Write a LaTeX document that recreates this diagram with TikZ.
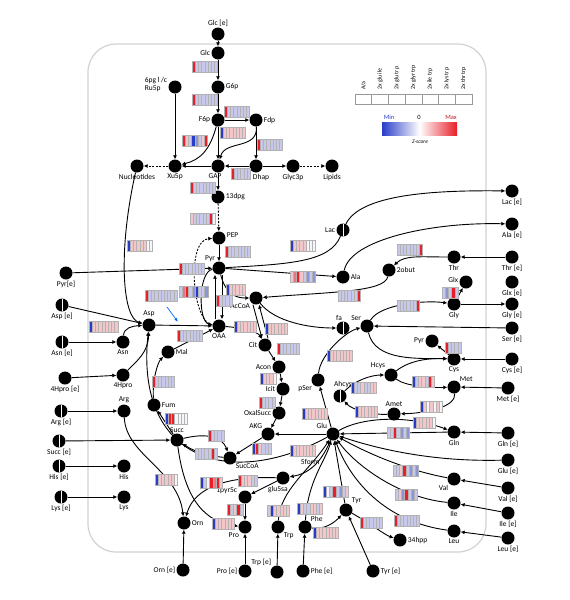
\documentclass[tikz,border=0pt]{standalone}
\usepackage{fontspec}
\setmainfont{Carlito}
\usetikzlibrary{arrows.meta}
\definecolor{zL}{RGB}{200,200,234}
\definecolor{zP}{RGB}{243,198,202}
\definecolor{zB}{RGB}{40,60,200}
\definecolor{zR}{RGB}{232,30,40}
\definecolor{zW}{RGB}{246,246,250}
\definecolor{zM}{RGB}{228,120,132}
\definecolor{zN}{RGB}{140,150,212}
\newcommand{\zfont}{\fontsize{7.5}{8}\selectfont}
% heat bar: x, y (top left), cell colours
\newcommand{\zbar}[3]{%
	\foreach \zc [count=\zi from 0] in {#3}
		\filldraw[fill=\zc, draw=gray!60, line width=0.3pt] (#1+\zi*3.2,#2) rectangle ++(3.2,11);}
\tikzset{%
	met/.style={circle, fill=black, minimum size=13pt, inner sep=0pt},
	splitmet/.style={met, path picture={\draw[white, line width=0.7pt]
		(path picture bounding box.north) -- (path picture bounding box.south);}},
	flux/.style={line width=0.9pt, -{Latex[length=4pt,width=4pt]}},
	dflux/.style={flux, dash pattern=on 2pt off 1.5pt},
	every label/.style={font=\zfont, inner sep=1pt}
}
\begin{document}
\begin{tikzpicture}[x=1pt, y=-1pt]
	\useasboundingbox[fill=white] (0,0) rectangle (570,600);
	\draw[gray!35, line width=1.2pt, rounded corners=28pt] (88,44) rectangle (486,552);

	% glycolysis
	\node[met, label=above:{Glc [e]}] (glcE) at (218,34) {};
	\node[met, label=left:Glc] (glc) at (218,53) {};
	\node[met, label=right:G6p] (g6p) at (218,87) {};
	\node[met, label=left:F6p] (f6p) at (218,120) {};
	\node[met, label=right:Fdp] (fdp) at (256,120) {};
	\node[met, label={[align=left, yshift=3pt]left:6pg l /c\\Ru5p}] (ru5p) at (175,87) {};
	\node[met, label=below:Nucleotides] (nucl) at (137,166) {};
	\node[met, label=below:Xu5p] (xu5p) at (175,166) {};
	\node[met, label={[xshift=-3pt]below:GAP}] (gap) at (218,166) {};
	\node[met, label={[xshift=5pt]below:Dhap}] (dhap) at (256,166) {};
	\node[met, label=below:Glyc3p] (glyc3p) at (293,166) {};
	\node[met, label=below:Lipids] (lipids) at (332,166) {};
	\node[met, label=right:13dpg] (dpg) at (218,197) {};
	\node[met, label={[yshift=3pt]right:PEP}] (pep) at (219,238) {};
	\node[met, label={[xshift=2pt]above left:Pyr}] (pyr) at (219,268) {};
	\node[met, label=below:{Pyr[e]}] (pyrE) at (66,273) {};

	% right side
	\node[met, label=below:{Lac [e]}] (lacE) at (512,191) {};
	\node[splitmet, label=left:Lac] (lac) at (343,230) {};
	\node[met, label=below:{Ala [e]}] (alaE) at (512,224) {};
	\node[met, label=right:Ala] (ala) at (343,277) {};
	\node[met, label=right:2obut] (obut) at (389,270) {};
	\node[met, label=below:Thr] (thr) at (454,257) {};
	\node[met, label=below:{Thr [e]}] (thrE) at (512,257) {};
	\node[met, label={[yshift=2pt]left:Glx}] (glx) at (466,282) {};
	\node[met, label=below:{Glx [e]}] (glxE) at (512,282) {};
	\node[met, label=below:Gly] (gly) at (454,304) {};
	\node[met, label=below:{Gly [e]}] (glyE) at (512,304) {};
	\node[met, label=above left:Ser] (ser) at (367,326) {};
	\node[met, label=below:{Ser [e]}] (serE) at (512,328) {};
	\node[splitmet, label={[xshift=-4pt]above:fa}] (fa) at (343,328) {};
	\node[met, label=left:Pyr] (pyrB) at (432,341) {};
	\node[met, label=below:Cys] (cys) at (454,359) {};
	\node[met, label=below:{Cys [e]}] (cysE) at (512,359) {};
	\node[met, label=above left:Hcys] (hcys) at (391,375) {};
	\node[met, label=above right:Met] (met) at (454,387) {};
	\node[met, label=below:{Met [e]}] (metE) at (508,388) {};
	\node[splitmet, label={[xshift=3pt]above:Ahcys}] (ahcys) at (340,396) {};
	\node[met, label=above:Amet] (amet) at (394,414) {};
	\node[met, label=below:Gln] (gln) at (454,432) {};
	\node[met, label=below:{Gln [e]}] (glnE) at (508,433) {};
	\node[met, label=below:{Glu [e]}] (gluE) at (508,460) {};
	\node[met, label=below left:Val] (val) at (454,479) {};
	\node[met, label=below:{Val [e]}] (valE) at (508,488) {};
	\node[met, label=below:Ile] (ile) at (454,503) {};
	\node[met, label=below:{Ile [e]}] (ileE) at (508,513) {};
	\node[met, label=below:Leu] (leu) at (454,531) {};
	\node[met, label=below:{Leu [e]}] (leuE) at (508,538) {};

	% TCA cycle and centre
	\node[met, label=below left:AcCoA] (acoa) at (256,298) {};
	\node[met, label=below:OAA] (oaa) at (219,326) {};
	\node[met, label=above:Asp] (asp) at (149,325) {};
	\node[met, label=right:Mal] (mal) at (168,352) {};
	\node[met, label=left:Cit] (cit) at (265,345) {};
	\node[met, label=left:Acon] (acon) at (279,367) {};
	\node[met, label=left:Icit] (icit) at (283,389) {};
	\node[met, label=left:OxalSucc] (oxs) at (279,413) {};
	\node[met, label=above left:AKG] (akg) at (268,434) {};
	\node[met, label=above left:Glu] (glu) at (333,434) {};
	\node[met, label=below left:pSer] (pser) at (318,380) {};
	\node[met, label=right:Fum] (fum) at (154,405) {};
	\node[met, label=above:Succ] (succ) at (177,440) {};
	\node[met, label=below right:SucCoA] (succoa) at (230,458) {};
	\node[met, label={[xshift=-5pt]below:glu5sa}] (glu5sa) at (283,478) {};
	\node[met, label={[yshift=6pt]left:1pyr5c}] (pyr5c) at (245,497) {};
	\node[met, label=below left:Pro] (pro) at (245,527) {};
	\node[met, label=right:Orn] (orn) at (184,523) {};
	\node[met, label=above right:Tyr] (tyr) at (346,510) {};
	\node[met, label=right:34hpp] (hpp) at (400,540) {};
	\node[met, label=above right:Phe] (phe) at (305,527) {};
	\node[met, label=below right:Trp] (trp) at (278,527) {};

	% left side
	\node[splitmet, label=below:{Asp [e]}] (aspE) at (62,305) {};
	\node[splitmet, label=below:{Asn [e]}] (asnE) at (62,342) {};
	\node[met, label=below:Asn] (asn) at (123,342) {};
	\node[met, label=below:{4Hpro [e]}] (hproE) at (65,378) {};
	\node[met, label=below:4Hpro] (hpro) at (123,375) {};
	\node[met, label=above:Arg] (arg) at (124,411) {};
	\node[splitmet, label=below:{Arg [e]}] (argE) at (61,411) {};
	\node[splitmet, label=below:{Succ [e]}] (succE) at (59,441) {};
	\node[splitmet, label=below:{His [e]}] (hisE) at (59,466) {};
	\node[met, label=below:His] (his) at (124,466) {};
	\node[splitmet, label=below:{Lys [e]}] (lysE) at (61,497) {};
	\node[met, label=below:Lys] (lys) at (124,497) {};

	% bottom
	\node[met, label=left:{Orn [e]}] (ornE) at (183,570) {};
	\node[met, label=left:{Pro [e]}] (proE) at (245,571) {};
	\node[met, label=above left:{Trp [e]}] (trpE) at (277,572) {};
	\node[met, label=right:{Phe [e]}] (pheE) at (303,571) {};
	\node[met, label=right:{Tyr [e]}] (tyrE) at (373,571) {};

	% glycolysis fluxes
	\draw[flux] (glcE) -- (glc);
	\draw[flux] (glc) -- (g6p);
	\draw[flux] (g6p) -- (f6p);
	\draw[flux] (f6p) -- (fdp);
	\draw[flux] (f6p) -- (gap);
	\draw[flux] (f6p) .. controls (210,150) and (200,160) .. (xu5p);
	\draw[flux] (fdp) .. controls (258,150) and (225,140) .. (gap);
	\draw[flux] (fdp) -- (dhap);
	\draw[flux] (dhap) -- (gap);
	\draw[flux] (ru5p) -- (xu5p);
	\draw[flux] (gap) -- (xu5p);
	\draw[dflux] (xu5p) -- (nucl);
	\draw[flux] (dhap) -- (glyc3p);
	\draw[dflux] (glyc3p) -- (lipids);
	\draw[flux] (gap) -- (dpg);
	\draw[dflux] (dpg) -- (pep);
	\draw[flux] (pep) -- (pyr);
	\draw[dflux] (oaa) .. controls (192,322) and (186,240) .. (pep);
	\draw[flux] (pyrE) -- (pyr);
	\draw[line width=0.9pt] (pyr) .. controls (290,264) and (330,262) .. (lac);
	\draw[flux] (lac) .. controls (360,195) and (430,190) .. (lacE);
	\draw[flux] (pyr) -- (ala);
	\draw[flux] (ala) .. controls (350,240) and (430,222) .. (alaE);
	\draw[flux] (thrE) -- (thr);
	\draw[flux] (thr) .. controls (420,257) and (405,255) .. (obut);
	\draw[flux] (obut) .. controls (385,292) and (330,292) .. (acoa);
	\draw[flux] (pyr) .. controls (226,296) and (238,298) .. (acoa);
	\draw[flux] ([xshift=3pt]pyr.south) -- ([xshift=3pt]oaa.north);
	\draw[flux] ([xshift=-4pt]oaa.north) -- ([xshift=-4pt]pyr.south);
	\draw[flux] (pyr) .. controls (198,272) and (198,322) .. (oaa);
	\draw[flux] ([xshift=-3pt]acoa.south) -- ([xshift=-3pt]cit.north);
	\draw[flux] ([xshift=3pt]cit.north) -- ([xshift=3pt]acoa.south);
	\draw[flux] (oaa) .. controls (245,328) and (258,332) .. (cit);
	\draw[flux] (acoa) .. controls (275,322) and (310,328) .. (fa);

	% TCA cycle
	\draw[flux] (cit) -- (acon);
	\draw[flux] (acon) -- (icit);
	\draw[flux] (icit) -- (oxs);
	\draw[flux] (oxs) -- (akg);
	\draw[flux] (akg) -- (succoa);
	\draw[flux] (succ) .. controls (205,433) and (222,436) .. (succoa);
	\draw[flux] (succoa) .. controls (210,456) and (195,452) .. (succ);
	\draw[flux] (succ) -- (fum);
	\draw[flux] (fum) .. controls (152,380) and (158,362) .. (mal);
	\draw[flux] (mal) -- (oaa);
	\draw[flux] (asp) -- (oaa);
	\draw[flux] (succE) -- (succ);

	% aspartate side
	\draw[flux] (aspE) -- (asp);
	\draw[flux] (asnE) -- (asn);
	\draw[flux] (asn) .. controls (124,328) and (132,326) .. (asp);
	\draw[flux] (hproE) -- (hpro);
	\draw[flux] (hpro) .. controls (138,360) and (148,352) .. (asp);
	\draw[flux] (nucl) .. controls (118,250) and (122,318) .. (asp);
	\draw[flux] (glu) .. controls (230,490) and (135,460) .. (asp);
	\draw[flux] (argE) -- (arg);
	\draw[flux] (hisE) -- (his);
	\draw[flux] (lysE) -- (lys);
	\draw[flux] (arg) .. controls (126,455) and (178,470) .. (orn);
	\draw[flux] (ornE) -- (orn);
	\draw[flux] (succ) .. controls (185,500) and (205,522) .. (pro);

	% glutamate hub
	\draw[flux] (glu) -- (akg);
	\draw[flux] (glu) .. controls (320,466) and (306,474) .. (glu5sa) node[pos=0.55, above, font=\zfont] {5form};
	\draw[flux] (glu5sa) -- (pyr5c);
	\draw[flux] (glu5sa) .. controls (230,476) and (195,486) .. (orn);
	\draw[flux] (pyr5c) -- (pro);
	\draw[flux] (proE) -- (pro);
	\draw[flux] (trpE) -- (trp);
	\draw[flux] (trp) .. controls (280,490) and (310,470) .. (glu);
	\draw[flux] (pheE) -- (phe);
	\draw[flux] (phe) .. controls (308,480) and (325,462) .. (glu);
	\draw[flux] (phe) .. controls (325,530) and (335,522) .. (tyr);
	\draw[flux] (tyrE) -- (tyr);
	\draw[flux] (tyr) -- (glu);
	\draw[flux] (tyr) .. controls (368,522) and (385,535) .. (hpp);
	\draw[flux] (leuE) -- (leu);
	\draw[flux] (leu) .. controls (385,522) and (350,480) .. (glu);
	\draw[flux] (ileE) -- (ile);
	\draw[flux] (ile) .. controls (400,498) and (355,465) .. (glu);
	\draw[flux] (valE) -- (val);
	\draw[flux] (val) .. controls (405,470) and (365,452) .. (glu);
	\draw[flux] (gluE) .. controls (430,462) and (375,448) .. (glu);
	\draw[flux] (glnE) -- (gln);
	\draw[flux] (gln) -- (glu);
	\draw[flux] (glu) .. controls (360,418) and (405,414) .. (gln);
	\draw[flux] (glu) -- (pser);
	\draw[flux] (pser) .. controls (320,355) and (345,332) .. (ser);

	% serine and sulphur
	\draw[flux] (serE) -- (ser);
	\draw[flux] (ser) .. controls (380,304) and (425,300) .. (gly);
	\draw[flux] (gly) -- (glyE);
	\draw[flux] (gly) -- (glx);
	\draw[flux] (ser) .. controls (375,362) and (420,358) .. (cys);
	\draw[flux] (cysE) -- (cys);
	\draw[flux] (cys) -- (pyrB);
	\draw[flux] (hcys) .. controls (410,360) and (430,358) .. (cys);
	\draw[flux] (hcys) .. controls (405,386) and (430,388) .. (met);
	\draw[flux] (metE) -- (met);
	\draw[flux] (met) .. controls (456,406) and (430,413) .. (amet);
	\draw[flux] (amet) .. controls (372,415) and (352,410) .. (ahcys);
	\draw[flux] (ahcys) .. controls (355,380) and (372,375) .. (hcys);

	% blue pointer
	\coordinate (ptA) at (167,307);
	\coordinate (ptB) at (178,322);
	\draw[-{Latex[length=4pt]}, line width=0.7pt, blue!60!cyan] (ptA) -- (ptB);

	% heat bars
	\zbar{192}{61}{zR,zL,zL,zL,zL,zL,zL,zL}
	\zbar{192}{94}{zR,zL,zL,zL,zL,zL,zL,zL}
	\zbar{224}{106}{zR,zL,zL,zL,zL,zL,zL,zL}
	\zbar{220}{127}{zB,zP,zP,zP,zP,zP,zP,zP}
	\zbar{182}{135}{zR,zP,zL,zB,zN,zL,zP,zR}
	\zbar{257}{139}{zR,zL,zL,zL,zL,zL,zL,zL}
	\zbar{231}{168}{zR,zL,zL,zL,zL,zL}
	\zbar{190}{182}{zR,zL,zL,zL,zL,zL,zL,zL}
	\zbar{190}{213}{zP,zL,zL,zL,zL,zL,zR,zW}
	\zbar{225}{246}{zR,zL,zL,zL,zL,zL,zL,zL}
	\zbar{179}{263}{zR,zL,zL,zL,zL,zL,zL,zL}
	\zbar{127}{240}{zB,zP,zP,zP,zP,zP,zW,zW}
	\zbar{179}{286}{zL,zM,zR,zL,zN,zB,zL,zL,zN}
	\zbar{145}{290}{zR,zL,zL,zL,zL,zL,zL,zL,zL,zL}
	\zbar{89}{321}{zB,zP,zP,zP,zP,zP,zP,zP,zP}
	\zbar{226}{284}{zB,zP,zP,zP,zP,zP}
	\zbar{216}{295}{zR,zL,zL,zL,zL}
	\zbar{234}{321}{zB,zP,zP,zP,zP,zP,zP}
	\zbar{177}{330}{zR,zL,zL,zL,zL,zL,zL,zL}
	\zbar{265}{323}{zB,zP,zP,zP,zP,zP,zP}
	\zbar{277}{343}{zR,zL,zL,zL,zL,zL,zL}
	\zbar{290}{240}{zB,zP,zP,zP,zP,zW,zW,zW}
	\zbar{290}{271}{zP,zM,zR,zP,zL,zN,zL,zN}
	\zbar{397}{244}{zL,zL,zL,zL,zL,zL,zL,zR}
	\zbar{338}{290}{zL,zL,zL,zL,zL,zL,zR}
	\zbar{442}{287}{zL,zN,zL,zR,zL}
	\zbar{397}{300}{zL,zL,zL,zL,zL,zL,zR}
	\zbar{445}{342}{zR,zL,zL,zL,zL}
	\zbar{327}{350}{zB,zP,zP,zP,zP,zP,zP,zP}
	\zbar{260}{373}{zB,zP,zP,zP,zW}
	\zbar{259}{397}{zR,zL,zL,zL,zL}
	\zbar{302}{408}{zB,zP,zP,zP,zP,zP,zP,zP}
	\zbar{351}{382}{zB,zL,zL,zP,zL,zL,zP,zP}
	\zbar{355}{406}{zB,zP,zP,zP,zP,zP,zP}
	\zbar{412}{376}{zB,zL,zP,zP,zL,zR,zP}
	\zbar{420}{401}{zB,zP,zW,zP,zW,zP,zW}
	\zbar{413}{417}{zB,zP,zP,zP,zP,zP,zW}
	\zbar{387}{427}{zL,zL,zR,zL,zN,zL,zN}
	\zbar{393}{465}{zL,zL,zP,zR,zL,zN,zL,zN}
	\zbar{395}{489}{zL,zP,zN,zR,zL,zN,zL}
	\zbar{394}{515}{zR,zL,zL,zL,zL,zL,zL,zL}
	\zbar{360}{517}{zR,zL,zL,zL,zL,zL,zL}
	\zbar{323}{486}{zB,zW,zL,zR,zL,zN,zL,zP}
	\zbar{313}{527}{zB,zP,zP,zP,zP,zP,zP,zP}
	\zbar{297}{503}{zB,zP,zL,zL,zP,zP,zL,zP}
	\zbar{267}{505}{zL,zB,zP,zP,zP,zP,zP}
	\zbar{290}{445}{zB,zP,zP,zP,zP,zP,zP,zP}
	\zbar{252}{443}{zB,zR,zP,zL,zL,zL}
	\zbar{208}{430}{zR,zL,zL,zL,zL}
	\zbar{195}{448}{zL,zL,zL,zL,zL,zR,zL}
	\zbar{165}{413}{zB,zR,zR,zW,zW,zW,zW}
	\zbar{152}{376}{zR,zL,zL,zL,zL,zL,zL}
	\zbar{238}{475}{zR,zP,zP,zP,zL,zL}
	\zbar{200}{477}{zB,zL,zW,zR,zM,zR,zP}
	\zbar{155}{474}{zB,zP,zP,zP,zP,zP,zW}
	\zbar{227}{504}{zR,zL,zP,zR,zL}
	\zbar{212}{518}{zB,zP,zP,zP,zP,zP,zP}

	% legend
	\foreach \lg [count=\i from 0] in {A/a, 2x glu ile, 2x glu trp, 2x glyr trp, 2x ile trp, 2x lys trp, 2x thr trp} {
		\draw[gray!80, line width=0.6pt] (355+\i*16.7,94) rectangle ++(16.7,10);
		\node[rotate=90, anchor=west, font=\fontsize{6}{6}\selectfont, inner sep=1pt] (lg\i) at (363.3+\i*16.7,91) {\lg};
	}
	\shade[left color=zB, right color=zR, middle color=white] (382,122) rectangle (457,135);
	\node[font=\fontsize{6.5}{7}\selectfont, text=zB] (lmin) at (389,117) {Min};
	\node[font=\fontsize{6.5}{7}\selectfont] (lzero) at (419,117) {0};
	\node[font=\fontsize{6.5}{7}\selectfont, text=zR!80!black] (lmax) at (451,117) {Max};
	\node[font=\fontsize{5.5}{6}\selectfont\itshape] (lz) at (420,142) {Z-score};
\end{tikzpicture}
\end{document}
